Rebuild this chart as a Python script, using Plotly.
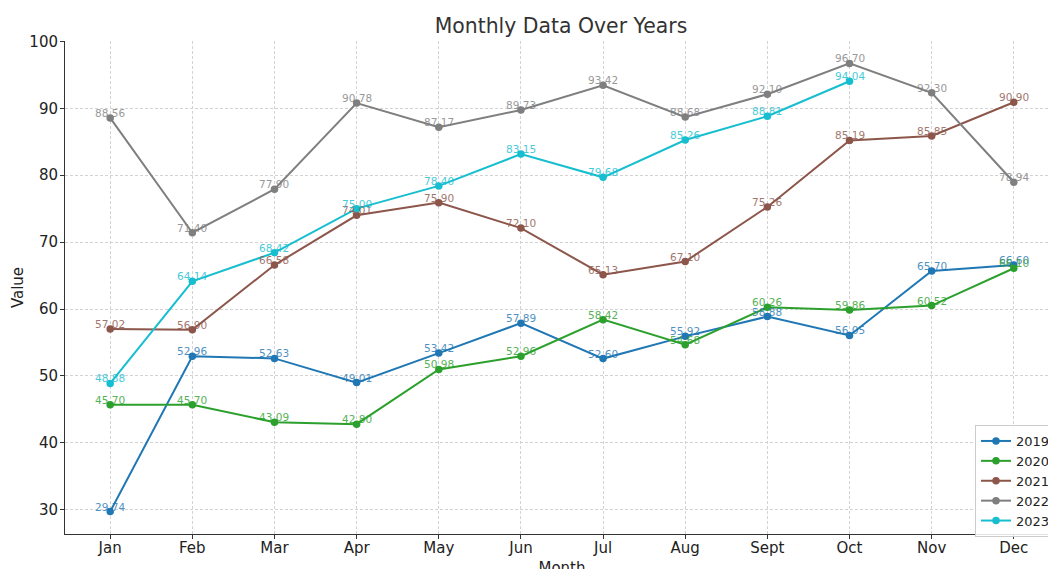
import plotly.graph_objects as go

months = ["Jan", "Feb", "Mar", "Apr", "May", "Jun", "Jul", "Aug", "Sept", "Oct", "Nov", "Dec"]
years = ["2019", "2020", "2021", "2022", "2023"]
v2019 = [29.74, 52.96, 52.63, 49.01, 53.42, 57.89, 52.60, 55.92, 58.88, 56.05, 65.70, 66.60]
v2020 = [45.70, 45.70, 43.09, 42.80, 50.98, 52.96, 58.42, 54.68, 60.26, 59.86, 60.52, 66.10]
v2021 = [57.02, 56.90, 66.58, 74.01, 75.90, 72.10, 65.13, 67.10, 75.26, 85.19, 85.85, 90.90]
v2022 = [88.56, 71.40, 77.90, 90.78, 87.17, 89.73, 93.42, 88.68, 92.10, 96.70, 92.30, 78.94]
v2023 = [48.88, 64.14, 68.42, 75.00, 78.40, 83.15, 79.68, 85.26, 88.81, 94.04]
series = [v2019, v2020, v2021, v2022, v2023]
colors = ["#1f77b4", "#2ca02c", "#8c564b", "#7f7f7f", "#17becf"]

fig = go.Figure()
annotations = []
for name, vals, col in zip(years, series, colors):
    xs = list(range(len(vals)))
    fig.add_trace(go.Scatter(
        x=xs, y=vals, name=name, mode="lines+markers",
        line=dict(color=col, width=2),
        marker=dict(color=col, size=7.5),
    ))
    for xi, yi in zip(xs, vals):
        annotations.append(dict(
            x=xi, y=yi, text=f"{yi:.2f}", showarrow=False, yshift=5,
            font=dict(family="DejaVu Sans", size=10.5, color=col), opacity=0.8,
        ))

W, H = 1062, 580
L, T, B, R = 65, 41, 46, 3
grid = dict(showgrid=True, gridcolor="#d3d3d3", griddash="3px,2px", gridwidth=0.8)
fig.update_layout(
    width=W, height=H,
    margin=dict(l=L, r=R, t=T, b=B, autoexpand=False),
    plot_bgcolor="white", paper_bgcolor="white",
    font=dict(family="DejaVu Sans", color="#222"),
    title=dict(text="Monthly Data Over Years", x=561 / W, xanchor="center",
               y=1 - 26 / H, yanchor="middle",
               font=dict(size=20.4, color="#333")),
    xaxis=dict(
        tickmode="array", tickvals=list(range(12)), ticktext=months,
        range=[-0.55, 11.55], ticks="outside", ticklen=4, tickcolor="#333",
        showline=True, linecolor="#333", linewidth=1, ticklabelstandoff=-4,
        tickfont=dict(size=15), zeroline=False,
        title=dict(text="Month", font=dict(size=15), standoff=6),
        **grid,
    ),
    yaxis=dict(
        range=[26.39, 100.05], tickvals=[30, 40, 50, 60, 70, 80, 90, 100],
        ticks="outside", ticklen=4, tickcolor="#333",
        showline=True, linecolor="#333", linewidth=1, ticklabelstandoff=-1,
        tickfont=dict(size=15), zeroline=False,
        title=dict(text="Value", font=dict(size=15), standoff=2),
        **grid,
    ),
    legend=dict(
        x=(975 - L) / (W - L - R), xanchor="left", y=(534 - 425) / (H - T - B), yanchor="top",
        bgcolor="rgba(255,255,255,0.85)", bordercolor="#cccccc", borderwidth=1,
        font=dict(size=13), itemwidth=30, tracegroupgap=0,
    ),
    annotations=annotations,
)
fig.write_html(
    "out.html",
    config={"displayModeBar": False},
    post_script="document.body.style.margin='0';document.body.style.overflow='hidden';document.documentElement.style.overflow='hidden';",
)
